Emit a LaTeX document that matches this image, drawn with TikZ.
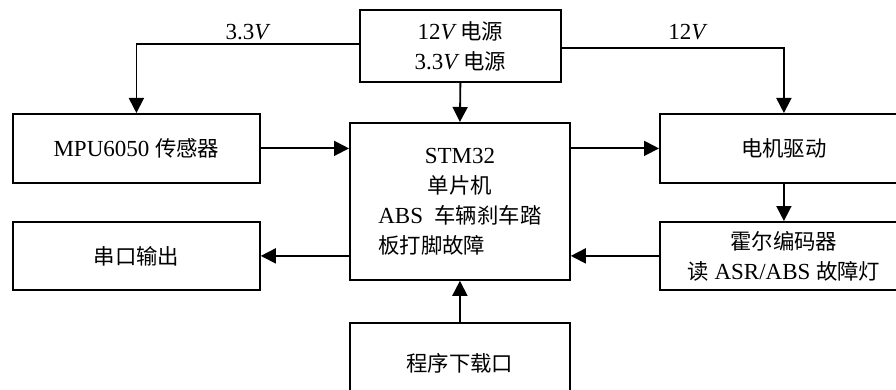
\documentclass[tikz,border=0pt]{standalone}
\usepackage{fontspec}
\setmainfont{Liberation Serif}
\newfontfamily\cjk[Scale=0.93]{Noto Sans CJK SC}
\usetikzlibrary{arrows.meta}
\begin{document}
\begin{tikzpicture}[x=1pt,y=-1pt,
  box/.style={draw, line width=1.8pt, inner sep=0pt, anchor=north west, align=center,
    font=\fontsize{23}{30}\selectfont},
  conn/.style={line width=1.8pt, -{Triangle[length=15pt,width=15pt]}},
  lbl/.style={font=\fontsize{23}{30}\selectfont, inner sep=0pt}]
\useasboundingbox (0,0) rectangle (896,390);
\clip (0,0) rectangle (896,390);
\node[box, minimum width=201pt, minimum height=72pt] (power) at (359,9)
  {12{\itshape V} {\cjk 电源}\\3.3{\itshape V} {\cjk 电源}};
\node[box, minimum width=247pt, minimum height=69pt] (mpu) at (12,113)
  {MPU6050 {\cjk 传感器}};
\node[box, minimum width=220pt, minimum height=157pt] (stm) at (349,122)
  {STM32\\{\cjk 单片机}\\ABS\ \ {\cjk 车辆刹车踏}\\\rlap{\cjk 板打脚故障}\phantom{ABS\ \ {\cjk 车辆刹车踏}}};
\node[box, minimum width=248pt, minimum height=69pt] (motor) at (659,113)
  {{\cjk 电机驱动}};
\node[box, minimum width=247pt, minimum height=68pt] (serial) at (12,221)
  {{\cjk 串口输出}};
\node[box, minimum width=248pt, minimum height=68pt] (hall) at (659,221)
  {{\cjk 霍尔编码器}\\{\cjk 读} ASR/ABS {\cjk 故障灯}};
\node[box, minimum width=220pt, minimum height=80pt] (prog) at (349,322)
  {{\cjk 程序下载口}};
\draw[conn] ([yshift=2pt]power.west) -| (mpu.north);
\draw[conn] ([yshift=-2pt]power.east) -| (motor.north);
\draw[conn] (power.south) -- (stm.north);
\draw[conn] (mpu.east) -- (mpu.east -| stm.west);
\draw[conn] (stm.east |- motor.west) -- (motor.west);
\draw[conn] (motor.south) -- (hall.north);
\draw[conn] (hall.west) -- (hall.west -| stm.east);
\draw[conn] (stm.west |- serial.east) -- (serial.east);
\draw[conn] (prog.north) -- (stm.south);
\node[lbl] (l33) at (247,32) {3.3{\itshape V}};
\node[lbl] (l12) at (687,32) {12{\itshape V}};
\end{tikzpicture}
\end{document}
